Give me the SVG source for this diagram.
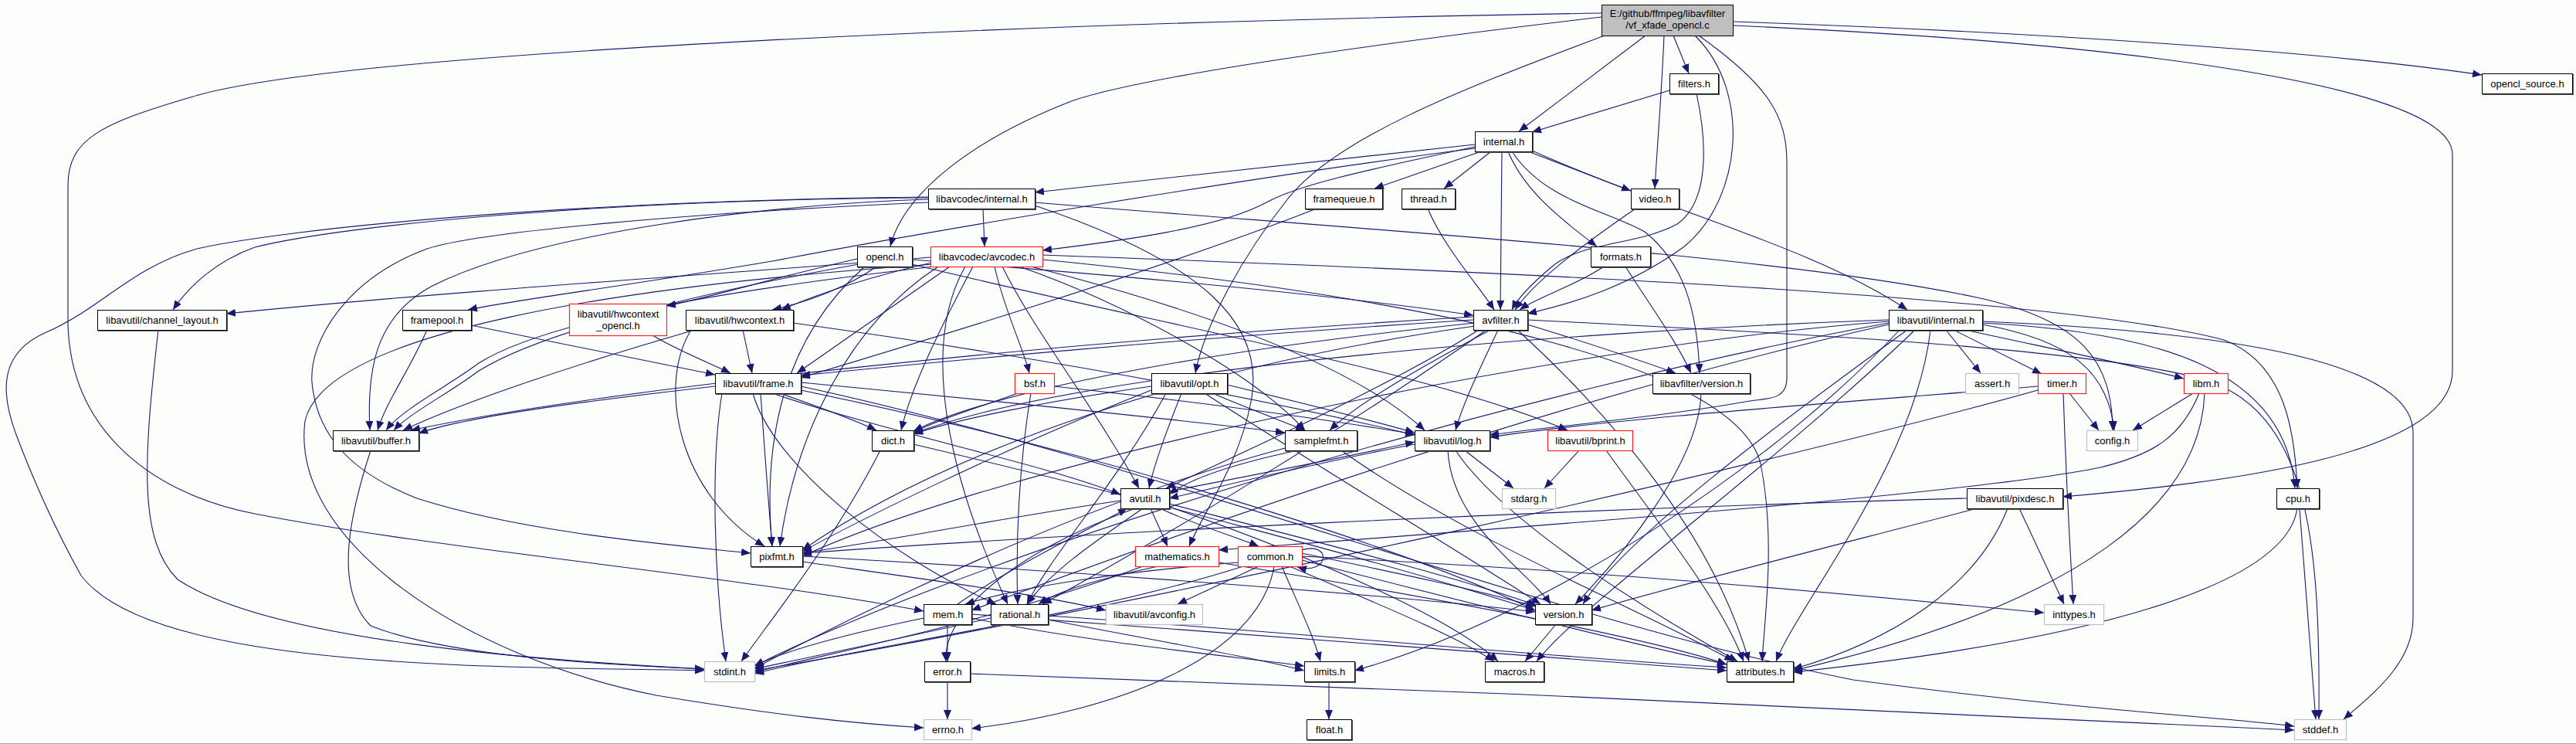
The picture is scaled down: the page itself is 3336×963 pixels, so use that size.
<svg xmlns="http://www.w3.org/2000/svg" width="3336" height="963" viewBox="0 0 3336 963">
<defs>
<marker id="ah" markerUnits="userSpaceOnUse" markerWidth="12" markerHeight="10" viewBox="0 0 12 10" refX="12" refY="5" orient="auto"><path d="M0,0 L12,5 L0,10 z" fill="#191970"/></marker>
<style>
.sh{fill:#5a5a5a}
.n .b{fill:#fff;stroke:#000;stroke-width:1}
.r rect{fill:#fff;stroke:#ff2020;stroke-width:1.2}
.g rect{fill:#fff;stroke:#bfbfbf;stroke-width:1.2}
#n_root rect{fill:#bfbfbf;stroke:#000;stroke-width:1}
text{font-family:"Liberation Sans",Arial,sans-serif;font-size:13px;text-anchor:middle;fill:#000}
#edges path{fill:none;stroke:#191970;stroke-width:1.1;marker-end:url(#ah)}
</style>
</defs>
<rect width="3336" height="963" fill="#fcfefc"/>
<line x1="0" y1="962.5" x2="3336" y2="962.5" stroke="#a8a8a8" stroke-width="1"/>
<g id="edges">
<path d="M2244,28 C2600,40 3000,65 3214,97"/>
<path d="M2244,33 C2750,55 3176,110 3176,200 L3176,480 C3176,590 2880,625 2671,643"/>
<path d="M2167,46 L2187,95"/>
<path d="M2155,46 C2152,120 2146,190 2143,244"/>
<path d="M2131,46 L1967,170"/>
<path d="M2195,46 C2270,120 2255,260 2180,320 C2110,370 2040,392 1978,406"/>
<path d="M2200,46 C2290,110 2314,150 2314,210 L2314,490 C2314,520 2285,515 2260,520 C2160,538 2030,550 1929,563"/>
<path d="M2078,46 C1880,120 1730,180 1668,257 C1610,330 1560,420 1548,483"/>
<path d="M2074,22 C1750,60 1480,100 1390,130 C1260,180 1170,250 1153,319"/>
<path d="M2074,17 C1400,28 450,65 250,125 C130,160 88,180 88,240 L88,420 C92,560 200,640 330,665 C560,710 950,745 1196,791"/>
<path d="M2162,117 L1984,171"/>
<path d="M2197,121 C2212,190 2212,262 2172,290 C2120,318 2050,312 2010,345 C1985,366 1966,385 1958,401"/>
<path d="M1910,187 L1340,249"/>
<path d="M1910,190 C1760,222 1680,240 1640,262 C1580,295 1450,312 1350,324"/>
<path d="M1918,196 L1780,244"/>
<path d="M1931,196 L1870,244"/>
<path d="M1979,196 L2112,247"/>
<path d="M1945,196 L1943,401"/>
<path d="M1953,196 C1975,250 2030,290 2068,319"/>
<path d="M1958,196 C2000,260 2080,272 2130,300 C2180,340 2198,400 2201,483"/>
<path d="M1982,194 C2150,270 2350,320 2470,401"/>
<path d="M1910,192 C1600,232 1200,300 1000,338 C800,372 680,386 606,401"/>
<path d="M1273,270 L1275,319"/>
<path d="M1340,262 C1800,300 2300,330 2560,385 C2700,415 2735,470 2736,557"/>
<path d="M1202,258 C1000,264 700,300 560,370 C485,410 475,480 479,557"/>
<path d="M1202,256 C800,258 450,290 330,320 C280,338 245,370 224,401"/>
<path d="M1202,262 C900,275 620,300 553,322 C450,360 400,440 404,495 C410,560 450,610 540,645 C680,690 870,705 972,716"/>
<path d="M1202,255 C700,260 350,300 255,322 C170,346 130,400 60,430 C0,456 0,505 20,560 C50,640 80,700 105,745 C170,830 400,852 600,861 C750,867 850,866 912,868"/>
<path d="M1340,266 C1560,340 1640,420 1620,520 C1605,600 1560,660 1540,707"/>
<path d="M1206,340 C1120,360 1060,380 1012,401"/>
<path d="M1230,345 C1150,400 1080,450 1032,483"/>
<path d="M1210,345 C900,380 700,420 620,470 C580,500 520,530 500,557"/>
<path d="M1205,333 C1000,350 600,375 293,406"/>
<path d="M1260,345 C1220,420 1180,500 1167,557"/>
<path d="M1288,345 C1300,400 1325,450 1333,483"/>
<path d="M1298,345 C1340,430 1420,530 1475,632"/>
<path d="M1320,345 C1450,390 1620,480 1690,557"/>
<path d="M1335,345 C1550,400 1750,470 1845,557"/>
<path d="M1215,345 C1100,420 1030,560 1010,707"/>
<path d="M1250,345 C1190,450 1230,620 1305,782"/>
<path d="M1350,336 C1900,390 2250,480 2280,600 C2300,700 2285,800 2282,856"/>
<path d="M1350,330 C1900,350 2650,380 2880,440 C2960,470 2972,560 2975,632"/>
<path d="M1210,342 C800,370 420,430 395,545 C375,700 600,850 850,900 C1000,925 1100,936 1196,942"/>
<path d="M1110,335 C1000,360 920,385 863,396"/>
<path d="M1135,345 C1100,370 1050,390 1000,401"/>
<path d="M1112,342 C900,380 700,430 620,480 C580,510 530,535 510,557"/>
<path d="M1120,345 C1000,450 990,600 1000,707"/>
<path d="M1181,336 C1500,360 1750,385 1908,408"/>
<path d="M1181,342 C1500,420 1850,480 2030,557"/>
<path d="M553,427 C530,480 500,520 489,557"/>
<path d="M610,421 C750,450 850,470 926,485"/>
<path d="M1705,270 C1500,350 1200,440 1037,489"/>
<path d="M1849,270 C1870,320 1915,370 1935,401"/>
<path d="M2118,270 C2060,310 1990,360 1962,401"/>
<path d="M2077,345 C2040,370 1990,385 1968,401"/>
<path d="M2105,345 C2140,400 2170,440 2190,483"/>
<path d="M845,434 C880,455 920,470 946,483"/>
<path d="M962,427 L974,483"/>
<path d="M900,427 C750,470 600,520 522,557"/>
<path d="M1027,418 C1400,470 1650,520 1832,563"/>
<path d="M895,427 C850,500 880,640 990,707"/>
<path d="M1908,410 C1400,440 800,500 532,557"/>
<path d="M1908,414 C1500,440 1200,470 1037,486"/>
<path d="M1910,418 C1600,450 1300,500 1183,558"/>
<path d="M1930,427 C1850,470 1760,520 1722,557"/>
<path d="M1940,427 C1920,470 1895,520 1885,557"/>
<path d="M1915,427 C1800,500 1600,590 1510,632"/>
<path d="M1910,422 C1500,480 1200,600 1039,712"/>
<path d="M1925,427 C1750,550 1500,700 1350,782"/>
<path d="M1965,427 C2100,550 2220,700 2265,856"/>
<path d="M1978,420 C2060,445 2120,465 2170,483"/>
<path d="M1978,414 C2300,430 2700,450 2850,490 C2990,530 3005,700 3003,931"/>
<path d="M2520,427 L2565,483"/>
<path d="M2530,427 L2644,484"/>
<path d="M2545,427 C2650,450 2750,470 2828,490"/>
<path d="M2567,420 C2680,440 2730,480 2738,557"/>
<path d="M2567,418 C2800,430 2960,480 2972,632"/>
<path d="M2567,416 C2900,430 3125,470 3125,560 L3125,800 C3125,860 3070,900 3035,931"/>
<path d="M2460,427 C2300,600 2000,800 1754,868"/>
<path d="M2446,418 C2000,500 1300,700 977,862"/>
<path d="M2446,414 C2000,430 1400,480 1183,561"/>
<path d="M2446,416 C2000,450 1300,600 1039,720"/>
<path d="M2446,420 C2000,520 1500,700 1258,790"/>
<path d="M2470,427 C2300,550 2100,700 2050,782"/>
<path d="M2480,427 C2300,600 2050,780 1990,856"/>
<path d="M2500,427 C2480,600 2330,780 2300,856"/>
<path d="M1037,500 C1500,600 2000,800 2400,880 C2700,920 2900,930 2971,940"/>
<path d="M935,509 C920,600 925,750 940,856"/>
<path d="M1000,509 C1150,560 1350,600 1451,640"/>
<path d="M926,500 C750,520 600,540 542,561"/>
<path d="M1010,509 C1070,530 1110,545 1135,557"/>
<path d="M975,509 C1000,600 1150,720 1290,782"/>
<path d="M1037,495 C1300,520 1500,540 1664,560"/>
<path d="M985,509 C990,580 995,650 1000,707"/>
<path d="M1037,505 C1400,580 1800,700 1988,790"/>
<path d="M1318,509 C1260,530 1210,545 1183,560"/>
<path d="M1365,500 C1550,520 1700,540 1832,562"/>
<path d="M1335,509 C1320,600 1315,700 1318,782"/>
<path d="M1510,509 C1450,620 1360,720 1330,782"/>
<path d="M1530,509 C1510,560 1495,600 1488,632"/>
<path d="M1491,500 C1350,520 1230,545 1183,562"/>
<path d="M1589,498 C1680,520 1760,540 1832,560"/>
<path d="M1491,505 C1300,580 1100,680 1039,714"/>
<path d="M1570,509 C1620,530 1660,545 1690,557"/>
<path d="M1560,509 C1700,600 1900,720 1995,782"/>
<path d="M2203,509 C2200,600 2100,720 2040,782"/>
<path d="M1140,583 C1080,700 1000,800 960,856"/>
<path d="M1183,575 C1500,650 1800,730 1988,790"/>
<path d="M1680,583 C1600,600 1540,620 1514,640"/>
<path d="M1737,583 C1900,700 2150,800 2245,856"/>
<path d="M1664,580 C1400,650 1100,800 977,865"/>
<path d="M1897,583 L1960,632"/>
<path d="M1832,575 C1700,600 1580,630 1514,645"/>
<path d="M1885,583 C1950,680 2150,800 2250,856"/>
<path d="M1875,583 C1880,680 1980,740 2008,782"/>
<path d="M1514,636 C1650,610 1750,590 1832,572"/>
<path d="M2045,583 L2000,632"/>
<path d="M2080,583 C2150,680 2230,780 2258,856"/>
<path d="M2680,509 L2718,557"/>
<path d="M2672,509 C2675,600 2680,700 2685,782"/>
<path d="M2639,500 C2400,520 2100,540 1929,566"/>
<path d="M2639,505 C2300,600 1500,780 977,868"/>
<path d="M2840,509 L2762,557"/>
<path d="M2848,509 C2825,565 2790,588 2720,605 C2550,640 2000,680 1578,712"/>
<path d="M2855,509 C2850,650 2700,780 2322,868"/>
<path d="M1502,658 C1550,680 1600,695 1630,707"/>
<path d="M1490,658 L1512,707"/>
<path d="M1470,658 C1300,720 1220,800 1225,856"/>
<path d="M1480,658 C1420,700 1360,740 1330,782"/>
<path d="M1514,652 C1700,700 1900,750 1990,784"/>
<path d="M1514,656 C1700,720 1880,800 1940,856"/>
<path d="M1451,648 C1300,670 1150,700 1039,716"/>
<path d="M1240,782 C1300,740 1400,690 1460,658"/>
<path d="M1227,808 L1227,856"/>
<path d="M1196,800 C1100,820 1020,840 977,862"/>
<path d="M1258,800 C1400,830 1600,850 1689,862"/>
<path d="M1258,795 C1600,820 2000,850 2236,868"/>
<path d="M1283,800 C1150,830 1050,850 977,866"/>
<path d="M1357,802 C1500,830 1620,850 1689,868"/>
<path d="M1357,797 C1700,820 2000,850 2236,864"/>
<path d="M1039,727 C1200,750 1350,770 1432,790"/>
<path d="M1039,720 C1400,740 1800,770 1988,792"/>
<path d="M1500,733 C1420,750 1370,765 1345,782"/>
<path d="M1480,733 C1300,800 1100,840 977,870"/>
<path d="M1578,728 C1900,780 2150,830 2236,860"/>
<path d="M1686,712 C1725,700 1722,745 1680,734"/>
<path d="M1630,733 L1525,782"/>
<path d="M1650,733 C1630,850 1450,920 1258,943"/>
<path d="M1686,720 C2100,740 2400,770 2647,793"/>
<path d="M1660,733 C1680,780 1700,820 1710,856"/>
<path d="M1610,733 C1400,800 1100,840 977,872"/>
<path d="M1686,725 C1900,780 2100,830 2236,860"/>
<path d="M1670,733 C1780,780 1880,820 1935,856"/>
<path d="M1686,716 C1800,740 1900,760 1988,785"/>
<path d="M1603,728 C1450,740 1320,760 1250,782"/>
<path d="M1227,882 L1227,931"/>
<path d="M1256,872 C1800,890 2500,920 2971,945"/>
<path d="M2015,808 L1975,856"/>
<path d="M1721,882 L1721,931"/>
<path d="M2615,658 L2673,782"/>
<path d="M2600,658 C2560,760 2450,830 2322,866"/>
<path d="M2547,645 C2000,660 1400,690 1039,716"/>
<path d="M2560,658 C2400,700 2200,750 2061,790"/>
<path d="M2978,658 L2999,931"/>
<path d="M2975,658 C2960,760 2700,830 2322,870"/>
<path d="M205,427 C185,600 180,700 230,750 C350,830 700,855 912,866"/>
<path d="M480,583 C455,660 430,760 480,810 C580,850 780,860 912,866"/>
</g>
<g id="n_root"><rect x="2074.5" y="6.5" width="170" height="40"/><text x="2159.5" y="22">E:/github/ffmpeg/libavfilter</text><text x="2159.5" y="37">/vf_xfade_opencl.c</text></g>
<g id="n_filters" class="n"><rect class="sh" x="2163" y="96" width="64" height="27"/><rect class="b" x="2162.5" y="95.5" width="63" height="26"/><text x="2194" y="113">filters.h</text></g>
<g id="n_opencl_source" class="n"><rect class="sh" x="3215" y="96" width="118" height="27"/><rect class="b" x="3214.5" y="95.5" width="117" height="26"/><text x="3273" y="113">opencl_source.h</text></g>
<g id="n_internal" class="n"><rect class="sh" x="1911" y="171" width="75" height="27"/><rect class="b" x="1910.5" y="170.5" width="74" height="26"/><text x="1947.5" y="188">internal.h</text></g>
<g id="n_lavc_internal" class="n"><rect class="sh" x="1203" y="245" width="139" height="27"/><rect class="b" x="1202.5" y="244.5" width="138" height="26"/><text x="1271.5" y="262">libavcodec/internal.h</text></g>
<g id="n_framequeue" class="n"><rect class="sh" x="1691" y="245" width="101" height="27"/><rect class="b" x="1690.5" y="244.5" width="100" height="26"/><text x="1740.5" y="262">framequeue.h</text></g>
<g id="n_thread" class="n"><rect class="sh" x="1816" y="245" width="70" height="27"/><rect class="b" x="1815.5" y="244.5" width="69" height="26"/><text x="1850" y="262">thread.h</text></g>
<g id="n_video" class="n"><rect class="sh" x="2113" y="245" width="63" height="27"/><rect class="b" x="2112.5" y="244.5" width="62" height="26"/><text x="2143.5" y="262">video.h</text></g>
<g id="n_opencl" class="n"><rect class="sh" x="1111" y="320" width="72" height="27"/><rect class="b" x="1110.5" y="319.5" width="71" height="26"/><text x="1146" y="337">opencl.h</text></g>
<g id="n_avcodec" class="r"><rect x="1205.5" y="319.5" width="145" height="26"/><text x="1278" y="337">libavcodec/avcodec.h</text></g>
<g id="n_formats" class="n"><rect class="sh" x="2061" y="320" width="78" height="27"/><rect class="b" x="2060.5" y="319.5" width="77" height="26"/><text x="2099" y="337">formats.h</text></g>
<g id="n_channel_layout" class="n"><rect class="sh" x="127" y="402" width="168" height="27"/><rect class="b" x="126.5" y="401.5" width="167" height="26"/><text x="210" y="419">libavutil/channel_layout.h</text></g>
<g id="n_framepool" class="n"><rect class="sh" x="522" y="402" width="90" height="27"/><rect class="b" x="521.5" y="401.5" width="89" height="26"/><text x="566" y="419">framepool.h</text></g>
<g id="n_hwcontext_opencl" class="r"><rect x="737.5" y="393.5" width="126" height="41"/><text x="800.5" y="411">libavutil/hwcontext</text><text x="800.5" y="426">_opencl.h</text></g>
<g id="n_hwcontext" class="n"><rect class="sh" x="889" y="402" width="140" height="27"/><rect class="b" x="888.5" y="401.5" width="139" height="26"/><text x="958" y="419">libavutil/hwcontext.h</text></g>
<g id="n_avfilter" class="n"><rect class="sh" x="1909" y="402" width="71" height="27"/><rect class="b" x="1908.5" y="401.5" width="70" height="26"/><text x="1943.5" y="419">avfilter.h</text></g>
<g id="n_lavu_internal" class="n"><rect class="sh" x="2447" y="402" width="122" height="27"/><rect class="b" x="2446.5" y="401.5" width="121" height="26"/><text x="2507" y="419">libavutil/internal.h</text></g>
<g id="n_frame" class="n"><rect class="sh" x="927" y="484" width="112" height="27"/><rect class="b" x="926.5" y="483.5" width="111" height="26"/><text x="982" y="501">libavutil/frame.h</text></g>
<g id="n_bsf" class="r"><rect x="1314.5" y="483.5" width="51" height="26"/><text x="1340" y="501">bsf.h</text></g>
<g id="n_opt" class="n"><rect class="sh" x="1492" y="484" width="99" height="27"/><rect class="b" x="1491.5" y="483.5" width="98" height="26"/><text x="1540.5" y="501">libavutil/opt.h</text></g>
<g id="n_lavf_version" class="n"><rect class="sh" x="2141" y="484" width="127" height="27"/><rect class="b" x="2140.5" y="483.5" width="126" height="26"/><text x="2203.5" y="501">libavfilter/version.h</text></g>
<g id="n_assert" class="g"><rect x="2545.5" y="483.5" width="69" height="26"/><text x="2580" y="501">assert.h</text></g>
<g id="n_timer" class="r"><rect x="2639.5" y="483.5" width="62" height="26"/><text x="2670.5" y="501">timer.h</text></g>
<g id="n_libm" class="r"><rect x="2828.5" y="483.5" width="57" height="26"/><text x="2857" y="501">libm.h</text></g>
<g id="n_buffer" class="n"><rect class="sh" x="432" y="558" width="112" height="27"/><rect class="b" x="431.5" y="557.5" width="111" height="26"/><text x="487" y="575">libavutil/buffer.h</text></g>
<g id="n_dict" class="n"><rect class="sh" x="1130" y="558" width="55" height="27"/><rect class="b" x="1129.5" y="557.5" width="54" height="26"/><text x="1156.5" y="575">dict.h</text></g>
<g id="n_samplefmt" class="n"><rect class="sh" x="1665" y="558" width="94" height="27"/><rect class="b" x="1664.5" y="557.5" width="93" height="26"/><text x="1711" y="575">samplefmt.h</text></g>
<g id="n_log" class="n"><rect class="sh" x="1833" y="558" width="98" height="27"/><rect class="b" x="1832.5" y="557.5" width="97" height="26"/><text x="1881" y="575">libavutil/log.h</text></g>
<g id="n_bprint" class="r"><rect x="2004.5" y="557.5" width="110" height="26"/><text x="2059.5" y="575">libavutil/bprint.h</text></g>
<g id="n_config" class="g"><rect x="2702.5" y="557.5" width="66" height="26"/><text x="2735.5" y="575">config.h</text></g>
<g id="n_avutil" class="n"><rect class="sh" x="1452" y="633" width="64" height="27"/><rect class="b" x="1451.5" y="632.5" width="63" height="26"/><text x="1483" y="650">avutil.h</text></g>
<g id="n_stdarg" class="g"><rect x="1945.5" y="632.5" width="69" height="26"/><text x="1980" y="650">stdarg.h</text></g>
<g id="n_pixdesc" class="n"><rect class="sh" x="2548" y="633" width="125" height="27"/><rect class="b" x="2547.5" y="632.5" width="124" height="26"/><text x="2609.5" y="650">libavutil/pixdesc.h</text></g>
<g id="n_cpu" class="n"><rect class="sh" x="2949" y="633" width="56" height="27"/><rect class="b" x="2948.5" y="632.5" width="55" height="26"/><text x="2976" y="650">cpu.h</text></g>
<g id="n_pixfmt" class="n"><rect class="sh" x="973" y="708" width="68" height="27"/><rect class="b" x="972.5" y="707.5" width="67" height="26"/><text x="1006" y="725">pixfmt.h</text></g>
<g id="n_mathematics" class="r"><rect x="1470.5" y="707.5" width="108" height="26"/><text x="1524.5" y="725">mathematics.h</text></g>
<g id="n_common" class="r"><rect x="1603.5" y="707.5" width="83" height="26"/><text x="1645" y="725">common.h</text></g>
<g id="n_mem" class="n"><rect class="sh" x="1197" y="783" width="63" height="27"/><rect class="b" x="1196.5" y="782.5" width="62" height="26"/><text x="1227.5" y="800">mem.h</text></g>
<g id="n_rational" class="n"><rect class="sh" x="1284" y="783" width="75" height="27"/><rect class="b" x="1283.5" y="782.5" width="74" height="26"/><text x="1320.5" y="800">rational.h</text></g>
<g id="n_avconfig" class="g"><rect x="1432.5" y="782.5" width="125" height="26"/><text x="1495" y="800">libavutil/avconfig.h</text></g>
<g id="n_version" class="n"><rect class="sh" x="1989" y="783" width="74" height="27"/><rect class="b" x="1988.5" y="782.5" width="73" height="26"/><text x="2025" y="800">version.h</text></g>
<g id="n_inttypes" class="g"><rect x="2647.5" y="782.5" width="77" height="26"/><text x="2686" y="800">inttypes.h</text></g>
<g id="n_stdint" class="g"><rect x="912.5" y="856.5" width="65" height="26"/><text x="945" y="874">stdint.h</text></g>
<g id="n_error" class="n"><rect class="sh" x="1198" y="857" width="60" height="27"/><rect class="b" x="1197.5" y="856.5" width="59" height="26"/><text x="1227" y="874">error.h</text></g>
<g id="n_limits" class="n"><rect class="sh" x="1690" y="857" width="66" height="27"/><rect class="b" x="1689.5" y="856.5" width="65" height="26"/><text x="1722" y="874">limits.h</text></g>
<g id="n_macros" class="n"><rect class="sh" x="1924" y="857" width="77" height="27"/><rect class="b" x="1923.5" y="856.5" width="76" height="26"/><text x="1961.5" y="874">macros.h</text></g>
<g id="n_attributes" class="n"><rect class="sh" x="2237" y="857" width="87" height="27"/><rect class="b" x="2236.5" y="856.5" width="86" height="26"/><text x="2279.5" y="874">attributes.h</text></g>
<g id="n_errno" class="g"><rect x="1196.5" y="931.5" width="62" height="26"/><text x="1227.5" y="949">errno.h</text></g>
<g id="n_float" class="n"><rect class="sh" x="1693" y="932" width="59" height="27"/><rect class="b" x="1692.5" y="931.5" width="58" height="26"/><text x="1721.5" y="949">float.h</text></g>
<g id="n_stddef" class="g"><rect x="2971.5" y="931.5" width="67" height="26"/><text x="3005" y="949">stddef.h</text></g>
</svg>
